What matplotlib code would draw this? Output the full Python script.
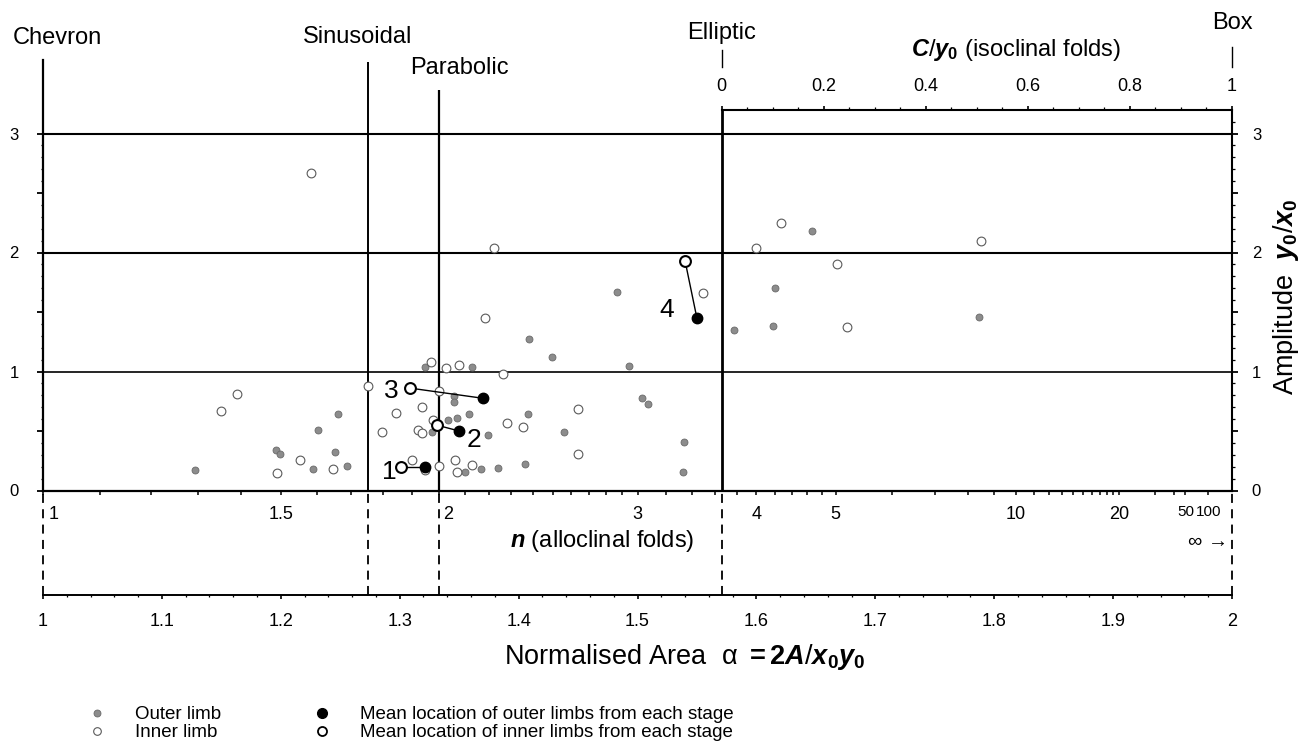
import numpy as np
import matplotlib
matplotlib.use("Agg")
import matplotlib.pyplot as plt
from matplotlib.lines import Line2D
from matplotlib.ticker import FixedLocator, FixedFormatter, NullFormatter, MultipleLocator

plt.rcParams['font.family'] = ['Liberation Sans', 'DejaVu Sans']
plt.rcParams['mathtext.fontset'] = 'custom'
plt.rcParams['mathtext.rm'] = 'Liberation Sans:bold'
plt.rcParams['mathtext.it'] = 'Liberation Sans:bold:italic'
plt.rcParams['mathtext.bf'] = 'Liberation Sans:bold'
plt.rcParams['mathtext.sf'] = 'Liberation Sans'

# ---------------- data ----------------
OUTER_ALPHA = [1.128, 1.196, 1.199, 1.227, 1.231, 1.246, 1.248, 1.256, 1.327, 1.321,
               1.341, 1.3485, 1.358, 1.346, 1.346, 1.361, 1.374, 1.408, 1.409, 1.428,
               1.438, 1.4825, 1.493, 1.504, 1.509, 1.539, 1.538, 1.355, 1.368, 1.383,
               1.405, 1.581, 1.614, 1.616, 1.647, 1.787]
OUTER_AMP = [0.17, 0.34, 0.31, 0.18, 0.51, 0.32, 0.64, 0.21, 0.49, 1.04,
             0.59, 0.61, 0.64, 0.79, 0.74, 1.04, 0.466, 0.64, 1.27, 1.125,
             0.49, 1.665, 1.046, 0.78, 0.727, 0.405, 0.153, 0.153, 0.18, 0.19,
             0.22, 1.35, 1.385, 1.70, 2.18, 1.46]

INNER_ALPHA = [1.225, 1.150, 1.163, 1.197, 1.216, 1.244, 1.273, 1.285, 1.297, 1.319,
               1.315, 1.319, 1.310, 1.321, 1.333, 1.326, 1.339, 1.333, 1.328, 1.350,
               1.387, 1.372, 1.379, 1.555, 1.390, 1.404, 1.450, 1.450, 1.3465, 1.3485,
               1.3605, 1.600, 1.621, 1.668, 1.676, 1.789]
INNER_AMP = [2.67, 0.67, 0.81, 0.15, 0.26, 0.18, 0.88, 0.49, 0.65, 0.70,
             0.51, 0.48, 0.26, 0.17, 0.21, 1.08, 1.03, 0.84, 0.59, 1.055,
             0.976, 1.45, 2.035, 1.66, 0.565, 0.53, 0.685, 0.31, 0.256, 0.153,
             0.214, 2.04, 2.25, 1.90, 1.37, 2.10]

STAGES = ['1', '2', '3', '4']
MEAN_INNER_ALPHA = [1.301, 1.331, 1.309, 1.540]
MEAN_INNER_AMP = [0.20, 0.55, 0.86, 1.93]
MEAN_OUTER_ALPHA = [1.321, 1.350, 1.370, 1.550]
MEAN_OUTER_AMP = [0.20, 0.50, 0.775, 1.447]

FOLD_CLASSES = ['Chevron', 'Sinusoidal', 'Parabolic', 'Elliptic', 'Box']
FOLD_ALPHA = [1.0, 4 / np.pi, 4 / 3, np.pi / 2, 2.0]

ALPHA_TICKS = [1.0, 1.1, 1.2, 1.3, 1.4, 1.5, 1.6, 1.7, 1.8, 1.9, 2.0]
ALPHA_LABELS = ['1', '1.1', '1.2', '1.3', '1.4', '1.5', '1.6', '1.7', '1.8', '1.9', '2']
AMP_TICKS = [0, 0.5, 1, 1.5, 2, 2.5, 3]
AMP_LABELS = ['0', '', '1', '', '2', '', '3']
C_TICKS = [0, 0.2, 0.4, 0.6, 0.8, 1.0]
C_LABELS = ['0', '0.2', '0.4', '0.6', '0.8', '1']
N_LABELS = ['1', '1.5', '2', '3', '4', '5', '10', '20', '50', '100']
N_LABEL_VALUES = [1, 1.5, 2, 3, 4, 5, 10, 20, 50, 100]
N_TICKS = (list(np.round(np.arange(1.0, 3.0, 0.1), 2)) + list(np.round(np.arange(3.0, 5.0, 0.2), 2))
           + list(range(5, 21)) + [30, 40, 50, 100])

# ---------------- layout ----------------
W, H = 1305, 743
X0, X1 = 43, 1232          # pixel columns of alpha = 1 and 2
Y_ZERO, PX_PER_UNIT = 490.5, 119.0
Y_MIN = (Y_ZERO - 595) / PX_PER_UNIT
Y_MAX = (Y_ZERO - 60) / PX_PER_UNIT
C_AXIS_Y = (Y_ZERO - 110) / PX_PER_UNIT


def P(px, py):
    """pixel position -> data position (for text placement)"""
    return 1 + (px - X0) / (X1 - X0), (Y_ZERO - py) / PX_PER_UNIT


def alpha_to_c(a):
    return (np.asarray(a, float) - np.pi / 2) / (2 - np.pi / 2)


def c_to_alpha(c):
    return np.pi / 2 + np.asarray(c, float) * (2 - np.pi / 2)


def alpha_to_n(a):
    a = np.asarray(a, float)
    return a / np.clip(2 - a, 1e-6, None)


def n_to_alpha(n):
    n = np.asarray(n, float)
    return 2 * n / (n + 1)


fig = plt.figure(figsize=(W / 100, H / 100), dpi=100)
ax = fig.add_axes([X0 / W, (H - 595) / H, (X1 - X0) / W, 535 / H])
ax.set_xlim(1, 2)
ax.set_ylim(Y_MIN, Y_MAX)
ax.spines['top'].set_visible(False)
ax.spines['right'].set_visible(False)
ax.spines['left'].set_bounds(0, Y_MAX)
ax.spines['left'].set_linewidth(1.6)
ax.spines['bottom'].set_linewidth(1.4)

# bottom alpha axis
ax.xaxis.set_major_locator(FixedLocator(ALPHA_TICKS))
ax.xaxis.set_major_formatter(FixedFormatter(ALPHA_LABELS))
ax.xaxis.set_minor_locator(MultipleLocator(0.02))
ax.tick_params(axis='x', which='major', direction='out', length=3, width=1.2, labelsize=13, pad=10)
ax.tick_params(axis='x', which='minor', direction='out', length=1.5, width=0.9)

# left amplitude axis
ax.yaxis.set_major_locator(FixedLocator(AMP_TICKS))
ax.yaxis.set_major_formatter(FixedFormatter(AMP_LABELS))
ax.yaxis.set_minor_locator(FixedLocator(np.round(np.arange(0, 3.01, 0.1), 2)))
ax.tick_params(axis='y', which='major', direction='out', length=4.3, width=1.3, labelsize=12, pad=13)
ax.tick_params(axis='y', which='minor', direction='out', length=1.8, width=0.9)

# right amplitude axis
axr = ax.secondary_yaxis('right')
axr.yaxis.set_major_locator(FixedLocator(AMP_TICKS))
axr.yaxis.set_major_formatter(FixedFormatter(AMP_LABELS))
axr.yaxis.set_minor_locator(FixedLocator(np.round(np.arange(0, 3.11, 0.1), 2)))
axr.spines['right'].set_bounds(0, C_AXIS_Y)
axr.spines['right'].set_linewidth(1.5)
axr.tick_params(which='major', direction='out', length=4.3, width=1.3, labelsize=12, pad=10)
axr.tick_params(which='minor', direction='out', length=1.8, width=0.9)

# top C/y0 axis (isoclinal folds)
axt = ax.secondary_xaxis((C_AXIS_Y - Y_MIN) / (Y_MAX - Y_MIN), functions=(alpha_to_c, c_to_alpha))
axt.xaxis.set_major_locator(FixedLocator(C_TICKS))
axt.xaxis.set_major_formatter(FixedFormatter(C_LABELS))
axt.xaxis.set_minor_locator(FixedLocator(np.round(np.arange(0, 1.001, 0.05), 2)))
axt.spines['top'].set_bounds(0, 1)
axt.spines['top'].set_linewidth(1.5)
axt.tick_params(which='major', direction='out', length=3, width=1.2, labelsize=13, pad=8)
axt.tick_params(which='minor', direction='out', length=2, width=0.9)

# n axis (alloclinal folds) along amplitude = 0
axn = ax.secondary_xaxis((0 - Y_MIN) / (Y_MAX - Y_MIN), functions=(alpha_to_n, n_to_alpha))
axn.xaxis.set_major_locator(FixedLocator(N_TICKS))
axn.xaxis.set_major_formatter(NullFormatter())
axn.xaxis.set_minor_locator(FixedLocator([]))
axn.spines['bottom'].set_linewidth(1.6)
axn.tick_params(which='major', direction='out', length=3.2, width=1.1)

for lbl, nv in zip(N_LABELS, N_LABEL_VALUES):
    small = nv >= 50
    dx = 8 if nv == 1 else (6 if nv == 2 else 0)
    ax.annotate(lbl, (float(n_to_alpha(nv)), 0), xytext=(dx, -15.5 if small else -17.6),
                textcoords='offset points', ha='center', va='center',
                fontsize=11 if small else 13)
ax.annotate('∞ →', (2.0, 0), xytext=(-3, -37), textcoords='offset points',
            ha='right', va='center', fontsize=14.5)
ax.text(*P(602, 541), '$n$ (alloclinal folds)', fontsize=17, ha='center', va='center')

# horizontal amplitude lines
ax.hlines([1, 2, 3], 1, 2, colors='black', linewidth=[1.2, 1.5, 1.5], zorder=1)

# fold-class boundaries
line_tops = [Y_MAX, P(0, 62)[1], P(0, 90)[1], C_AXIS_Y, C_AXIS_Y]
line_widths = [1.6, 1.4, 1.6, 2.0, 1.5]
for a, top, lw in zip(FOLD_ALPHA, line_tops, line_widths):
    if 1 < a < 2:
        ax.plot([a, a], [0, top], color='black', lw=lw, zorder=1, solid_capstyle='butt')
    ax.plot([a, a], [Y_MIN, 0], color='black', lw=1.3, dashes=(5, 3.5), zorder=1, clip_on=False)

# class labels
ax.text(*P(57, 38), FOLD_CLASSES[0], fontsize=17, ha='center', va='center')
ax.text(*P(358, 37), FOLD_CLASSES[1], fontsize=17, ha='center', va='center')
ax.text(*P(459, 68), FOLD_CLASSES[2], fontsize=17, ha='center', va='center')
ax.text(FOLD_ALPHA[3], P(0, 33)[1], FOLD_CLASSES[3], fontsize=17, ha='center', va='center')
ax.text(FOLD_ALPHA[4], P(0, 23)[1], FOLD_CLASSES[4], fontsize=17, ha='center', va='center')
ax.plot([FOLD_ALPHA[3]] * 2, [P(0, 67)[1], P(0, 50)[1]], color='black', lw=1.0, clip_on=False)
ax.plot([FOLD_ALPHA[4]] * 2, [P(0, 67)[1], P(0, 47)[1]], color='black', lw=1.0, clip_on=False)
ax.text(*P(1016, 50), '$C$/$y_0$ (isoclinal folds)', fontsize=17, ha='center', va='center')

# data points
ax.plot(OUTER_ALPHA, OUTER_AMP, 'o', ls='none', ms=5, mfc='#8c8c8c', mec='#6a6a6a', mew=0.6, zorder=3)
ax.plot(INNER_ALPHA, INNER_AMP, 'o', ls='none', ms=6.3, mfc='white', mec='#5a5a5a', mew=0.8, zorder=3)

for ia, iy, oa, oy in zip(MEAN_INNER_ALPHA, MEAN_INNER_AMP, MEAN_OUTER_ALPHA, MEAN_OUTER_AMP):
    ax.plot([ia, oa], [iy, oy], color='black', lw=1.0, zorder=4)
ax.plot(MEAN_OUTER_ALPHA, MEAN_OUTER_AMP, 'o', ls='none', ms=7.5, mfc='black', mec='black', zorder=5)
ax.plot(MEAN_INNER_ALPHA, MEAN_INNER_AMP, 'o', ls='none', ms=7.8, mfc='white', mec='black', mew=1.5, zorder=5)

stage_anchor = [(MEAN_INNER_ALPHA[0], MEAN_INNER_AMP[0]), (MEAN_OUTER_ALPHA[1], MEAN_OUTER_AMP[1]),
                (MEAN_INNER_ALPHA[2], MEAN_INNER_AMP[2]), (MEAN_OUTER_ALPHA[3], MEAN_OUTER_AMP[3])]
stage_offset = [(-8.5, -2), (10.5, -4.5), (-14, 0), (-21.5, 7.5)]
for s, xy, off in zip(STAGES, stage_anchor, stage_offset):
    ax.annotate(s, xy, xytext=off, textcoords='offset points', ha='center',
                va='center_baseline', fontsize=19, zorder=6)

# axis titles
ax.set_xlabel('Normalised Area  α $= 2A$/$x_0y_0$', fontsize=19.5)
ax.xaxis.set_label_coords((685 - X0) / (X1 - X0), (595 - 657) / 535)
ax.xaxis.label.set_va('center')
ax.set_ylabel('Amplitude  $y_0$/$x_0$', fontsize=19.5)
ax.yaxis.set_label_position('right')
ax.yaxis.set_label_coords((1271 - X0) / (X1 - X0), (595 - 297) / 535)

# legend
handles = [
    Line2D([], [], ls='none', marker='o', ms=5, mfc='#8c8c8c', mec='#6a6a6a', mew=0.6),
    Line2D([], [], ls='none', marker='o', ms=5.5, mfc='white', mec='#5a5a5a', mew=0.8),
    Line2D([], [], ls='none', marker='o', ms=7, mfc='black', mec='black'),
    Line2D([], [], ls='none', marker='o', ms=6.5, mfc='white', mec='black', mew=1.3),
]
labels = ['Outer limb', 'Inner limb',
          'Mean location of outer limbs from each stage',
          'Mean location of inner limbs from each stage']
fig.legend(handles, labels, ncol=2, loc='upper left', bbox_to_anchor=(88 / W, 1 - 706 / H),
           frameon=False, fontsize=13.5, handlelength=1.0, handletextpad=1.5,
           columnspacing=4.9, labelspacing=0.05, borderpad=0, borderaxespad=0)

fig.savefig('out.png', dpi=100)
